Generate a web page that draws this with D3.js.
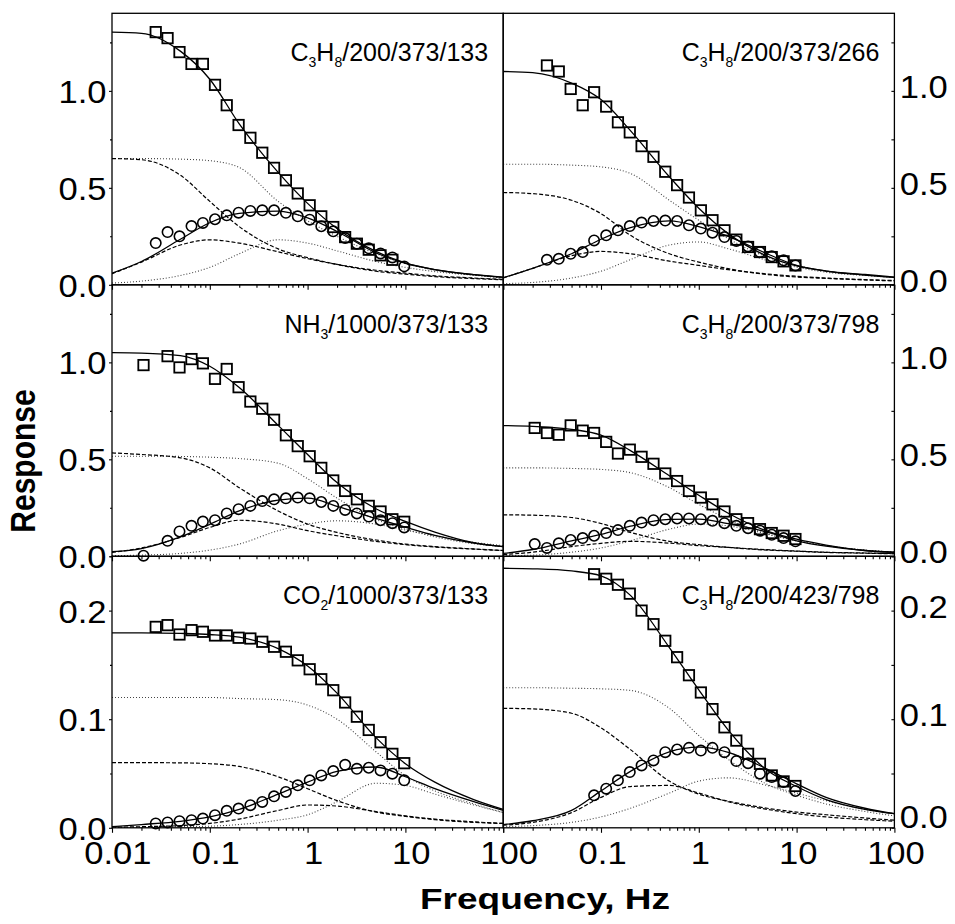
<!DOCTYPE html>
<html>
<head>
<meta charset="utf-8">
<script src="https://cdn.jsdelivr.net/npm/d3@7"></script>
<style>
  body { margin: 0; background: #fff; }
  text { font-family: "Liberation Sans", Arial, sans-serif; fill: #000; }
</style>
</head>
<body>
<svg id="chart" width="955" height="924"></svg>
<script>
'use strict';

// measured frequencies (Hz) for the symbols
var freqHz = [0.021, 0.028, 0.037, 0.049, 0.065, 0.085, 0.113, 0.149, 0.197, 0.26, 0.344, 0.454,
              0.6, 0.793, 1.05, 1.38, 1.83, 2.42, 3.19, 4.22, 5.57, 7.36, 9.73];
// frequencies at which the fitted curves were read
var curveHz = [0.01, 0.02, 0.05, 0.1, 0.2, 0.5, 1, 2, 5, 10, 20, 50, 100];

var xTickLabels = [0.01, 0.1, 1, 10, 100];

// panel 1 : C3H8/200/373/133
var p1Label = ["C", "3", "H", "8", "/200/373/133"];
var p1Squares = [null, 1.303, 1.272, 1.200, 1.139, 1.139, 1.031, 0.926, 0.824, 0.758, 0.681, 0.603, 0.539, 0.471, 0.410, 0.353, 0.298, 0.246, 0.212, 0.181, 0.152, 0.129, null];
var p1Circles = [null, 0.215, 0.272, 0.250, 0.303, 0.319, 0.338, 0.358, 0.372, 0.381, 0.384, 0.384, 0.371, 0.353, 0.336, 0.302, 0.276, 0.241, 0.212, 0.188, 0.162, 0.141, 0.095];
var p1FitIn   = [1.303, 1.297, 1.205, 1.06, 0.83, 0.58, 0.42, 0.29, 0.172, 0.113, 0.078, 0.052, 0.04];
var p1FitOut  = [0.06, 0.12, 0.235, 0.32, 0.368, 0.38, 0.345, 0.275, 0.165, 0.11, 0.078, 0.052, 0.038];
var p1DashIn  = [0.651, 0.645, 0.565, 0.43, 0.30, 0.185, 0.14, 0.105, 0.07, 0.055, 0.042, 0.032, 0.026];
var p1DashOut = [0.057, 0.117, 0.205, 0.232, 0.215, 0.17, 0.135, 0.105, 0.075, 0.06, 0.046, 0.035, 0.028];
var p1DotIn   = [0.651, 0.651, 0.648, 0.64, 0.605, 0.43, 0.33, 0.25, 0.16, 0.11, 0.075, 0.05, 0.035];
var p1DotOut  = [0.009, 0.019, 0.048, 0.09, 0.16, 0.232, 0.215, 0.175, 0.12, 0.09, 0.068, 0.05, 0.038];

// panel 2 : C3H8/200/373/266
var p2Label = ["C", "3", "H", "8", "/200/373/266"];
var p2Squares = [null, 1.131, 1.100, 1.010, 0.926, 0.993, 0.919, 0.838, 0.786, 0.715, 0.660, 0.583, 0.514, 0.450, 0.384, 0.333, 0.281, 0.233, 0.195, 0.169, 0.143, 0.121, 0.100];
var p2Circles = [null, 0.129, 0.134, 0.160, 0.169, 0.229, 0.255, 0.281, 0.303, 0.321, 0.329, 0.331, 0.329, 0.307, 0.290, 0.269, 0.246, 0.226, 0.198, 0.169, 0.147, 0.126, 0.100];
var p2FitIn   = [1.100, 1.094, 1.04, 0.955, 0.795, 0.557, 0.395, 0.264, 0.148, 0.097, 0.071, 0.053, 0.040];
var p2FitOut  = [0.036, 0.085, 0.16, 0.235, 0.295, 0.33, 0.30, 0.25, 0.16, 0.10, 0.071, 0.05, 0.038];
var p2DashIn  = [0.476, 0.47, 0.436, 0.367, 0.255, 0.16, 0.117, 0.083, 0.053, 0.040, 0.033, 0.025, 0.02];
var p2DashOut = [0.036, 0.085, 0.15, 0.172, 0.16, 0.122, 0.100, 0.078, 0.056, 0.044, 0.035, 0.027, 0.022];
var p2DotIn   = [0.622, 0.622, 0.617, 0.608, 0.574, 0.436, 0.333, 0.238, 0.143, 0.100, 0.071, 0.05, 0.038];
var p2DotOut  = [0.006, 0.012, 0.035, 0.07, 0.13, 0.205, 0.221, 0.186, 0.126, 0.091, 0.065, 0.048, 0.038];

// panel 3 : NH3/1000/373/133
var p3Label = ["NH", "3", "/1000/373/133"];
var p3Squares = [0.986, null, 1.032, 0.974, 1.017, 0.995, 0.915, 0.966, 0.872, 0.798, 0.761, 0.704, 0.624, 0.568, 0.516, 0.456, 0.391, 0.337, 0.294, 0.260, 0.231, 0.191, 0.178];
var p3Circles = [0.003, null, 0.080, 0.128, 0.157, 0.179, 0.186, 0.221, 0.243, 0.260, 0.285, 0.294, 0.299, 0.303, 0.299, 0.280, 0.260, 0.239, 0.221, 0.205, 0.186, 0.171, 0.149];
var p3FitIn   = [1.05, 1.048, 1.035, 0.98, 0.87, 0.675, 0.525, 0.38, 0.245, 0.18, 0.125, 0.07, 0.05];
var p3FitOut  = [0.024, 0.04, 0.1, 0.165, 0.234, 0.29, 0.3, 0.258, 0.195, 0.15, 0.108, 0.068, 0.05];
var p3DashIn  = [0.533, 0.525, 0.508, 0.456, 0.354, 0.234, 0.166, 0.123, 0.084, 0.063, 0.05, 0.038, 0.03];
var p3DashOut = [0.02, 0.043, 0.097, 0.149, 0.186, 0.166, 0.132, 0.106, 0.077, 0.06, 0.048, 0.037, 0.03];
var p3DotIn   = [0.516, 0.516, 0.515, 0.511, 0.504, 0.48, 0.40, 0.30, 0.19, 0.14, 0.10, 0.065, 0.05];
var p3DotOut  = [0.003, 0.006, 0.015, 0.032, 0.063, 0.132, 0.166, 0.183, 0.166, 0.135, 0.106, 0.072, 0.055];

// panel 4 : C3H8/200/373/798
var p4Label = ["C", "3", "H", "8", "/200/373/798"];
var p4Squares = [0.662, 0.636, 0.627, 0.675, 0.648, 0.636, 0.590, 0.530, 0.550, 0.513, 0.477, 0.427, 0.388, 0.337, 0.303, 0.268, 0.231, 0.191, 0.171, 0.140, 0.120, 0.106, 0.089];
var p4Circles = [0.063, 0.043, 0.067, 0.084, 0.094, 0.106, 0.120, 0.135, 0.157, 0.174, 0.186, 0.191, 0.195, 0.195, 0.191, 0.183, 0.171, 0.157, 0.145, 0.132, 0.111, 0.094, 0.077];
var p4FitIn   = [0.674, 0.670, 0.655, 0.625, 0.545, 0.415, 0.315, 0.222, 0.13, 0.088, 0.058, 0.03, 0.021];
var p4FitOut  = [0.015, 0.035, 0.08, 0.113, 0.155, 0.19, 0.192, 0.168, 0.125, 0.08, 0.052, 0.03, 0.02];
var p4DashIn  = [0.214, 0.212, 0.2, 0.169, 0.123, 0.077, 0.06, 0.046, 0.032, 0.026, 0.02, 0.016, 0.013];
var p4DashOut = [0.009, 0.021, 0.05, 0.067, 0.077, 0.068, 0.055, 0.046, 0.034, 0.027, 0.021, 0.017, 0.014];
var p4DotIn   = [0.456, 0.456, 0.453, 0.448, 0.431, 0.354, 0.268, 0.191, 0.115, 0.08, 0.055, 0.032, 0.022];
var p4DotOut  = [0.003, 0.006, 0.021, 0.043, 0.08, 0.14, 0.166, 0.157, 0.115, 0.08, 0.055, 0.032, 0.022];

// panel 5 : CO2/1000/373/133
var p5Label = ["CO", "2", "/1000/373/133"];
var p5Squares = [null, 0.185, 0.1866, 0.178, 0.182, 0.1805, 0.1771, 0.1771, 0.175, 0.1743, 0.1713, 0.1667, 0.1621, 0.1542, 0.146, 0.1368, 0.1267, 0.1154, 0.1023, 0.0901, 0.0788, 0.0681, 0.0595];
var p5Circles = [null, 0.004, 0.0049, 0.0061, 0.007, 0.0085, 0.0116, 0.0156, 0.0177, 0.0208, 0.0238, 0.029, 0.033, 0.0391, 0.0437, 0.0482, 0.0522, 0.058, 0.0543, 0.0553, 0.0528, 0.0498, 0.0437];
var p5FitIn   = [0.1795, 0.1795, 0.179, 0.178, 0.1755, 0.165, 0.149, 0.124, 0.083, 0.059, 0.042, 0.026, 0.017];
var p5FitOut  = [0.001, 0.003, 0.006, 0.01, 0.017, 0.031, 0.042, 0.052, 0.056, 0.047, 0.036, 0.024, 0.016];
var p5DashIn  = [0.06, 0.06, 0.0598, 0.059, 0.0565, 0.047, 0.036, 0.025, 0.0145, 0.0105, 0.0075, 0.005, 0.004];
var p5DashOut = [0.0005, 0.001, 0.002, 0.004, 0.008, 0.016, 0.021, 0.02, 0.015, 0.011, 0.008, 0.0055, 0.004];
var p5DotIn   = [0.12, 0.12, 0.12, 0.12, 0.119, 0.118, 0.113, 0.1, 0.07, 0.048, 0.034, 0.022, 0.014];
var p5DotOut  = [0.0002, 0.0004, 0.001, 0.0015, 0.003, 0.007, 0.012, 0.024, 0.041, 0.039, 0.031, 0.021, 0.014];

// panel 6 : C3H8/200/423/798
var p6Label = ["C", "3", "H", "8", "/200/423/798"];
var p6Squares = [null, null, null, null, null, 0.2335, 0.2293, 0.2238, 0.2156, 0.2, 0.1875, 0.1722, 0.1571, 0.1405, 0.1246, 0.1093, 0.0925, 0.0803, 0.0681, 0.0589, 0.0482, 0.0427, 0.0385];
var p6Circles = [null, null, null, null, null, 0.0299, 0.036, 0.0437, 0.0513, 0.0574, 0.062, 0.0696, 0.0721, 0.0736, 0.0711, 0.0736, 0.0696, 0.0614, 0.0595, 0.0498, 0.0467, 0.0421, 0.0339];
var p6FitIn   = [0.239, 0.2385, 0.2365, 0.232, 0.214, 0.166, 0.127, 0.09, 0.053, 0.038, 0.026, 0.017, 0.013];
var p6FitOut  = [0.003, 0.0065, 0.016, 0.034, 0.052, 0.07, 0.0742, 0.0695, 0.054, 0.0405, 0.028, 0.018, 0.013];
var p6DashIn  = [0.11, 0.1095, 0.1055, 0.092, 0.072, 0.043, 0.031, 0.0245, 0.018, 0.0145, 0.012, 0.009, 0.007];
var p6DashOut = [0.0024, 0.005, 0.014, 0.028, 0.038, 0.039, 0.032, 0.024, 0.017, 0.013, 0.01, 0.0075, 0.006];
var p6DotIn   = [0.129, 0.129, 0.1285, 0.128, 0.1265, 0.11, 0.085, 0.063, 0.04, 0.03, 0.022, 0.015, 0.011];
var p6DotOut  = [0.001, 0.002, 0.005, 0.01, 0.018, 0.032, 0.043, 0.046, 0.039, 0.032, 0.025, 0.017, 0.013];

// y axis per row: top of scale, labelled ticks, minor ticks
var rowMax = [1.4, 1.4, 0.25];
var rowMajor = [[0, 0.5, 1.0], [0, 0.5, 1.0], [0, 0.1, 0.2]];
var rowMinor = [[0.25, 0.75, 1.25], [0.25, 0.75, 1.25], [0.05, 0.15, 0.25]];

var panels = [
    {label: p1Label, sq: p1Squares, ci: p1Circles, fitIn: p1FitIn, fitOut: p1FitOut, dashIn: p1DashIn, dashOut: p1DashOut, dotIn: p1DotIn, dotOut: p1DotOut},
    {label: p2Label, sq: p2Squares, ci: p2Circles, fitIn: p2FitIn, fitOut: p2FitOut, dashIn: p2DashIn, dashOut: p2DashOut, dotIn: p2DotIn, dotOut: p2DotOut},
    {label: p3Label, sq: p3Squares, ci: p3Circles, fitIn: p3FitIn, fitOut: p3FitOut, dashIn: p3DashIn, dashOut: p3DashOut, dotIn: p3DotIn, dotOut: p3DotOut},
    {label: p4Label, sq: p4Squares, ci: p4Circles, fitIn: p4FitIn, fitOut: p4FitOut, dashIn: p4DashIn, dashOut: p4DashOut, dotIn: p4DotIn, dotOut: p4DotOut},
    {label: p5Label, sq: p5Squares, ci: p5Circles, fitIn: p5FitIn, fitOut: p5FitOut, dashIn: p5DashIn, dashOut: p5DashOut, dotIn: p5DotIn, dotOut: p5DotOut},
    {label: p6Label, sq: p6Squares, ci: p6Circles, fitIn: p6FitIn, fitOut: p6FitOut, dashIn: p6DashIn, dashOut: p6DashOut, dotIn: p6DotIn, dotOut: p6DotOut}
];

var plotLeft = 112, plotTop = 13.3;
var panelW = 391.2, rowH = 271.5;
var labelStretch = "scale(1.08,1)";

var svg = d3.select("#chart");

// log minor ticks 2..9 in every decade
var minorX = [];
[0.01, 0.1, 1, 10].forEach(function (dec) {
    for (var m = 2; m <= 9; m++) { minorX.push(+(m * dec).toPrecision(2)); }
});

var lineStyles = [
    {key: "dotIn",  dash: "1,2", w: 1.1, col: "#444"},
    {key: "dotOut", dash: "1,2", w: 1.1, col: "#444"},
    {key: "dashIn",  dash: "4,2", w: 1.2, col: "#000"},
    {key: "dashOut", dash: "4,2", w: 1.2, col: "#000"},
    {key: "fitIn",  dash: null, w: 1.3, col: "#000"},
    {key: "fitOut", dash: null, w: 1.3, col: "#000"}
];

panels.forEach(function (p, k) {
    var col = k % 2, row = Math.floor(k / 2);
    var x0 = plotLeft + col * panelW, x1 = x0 + panelW;
    var yTop = plotTop + row * rowH, yBot = yTop + rowH;

    var x = d3.scaleLog().domain([0.01, 100]).range([x0, x1]);
    var y = d3.scaleLinear().domain([0, rowMax[row]]).range([yBot, yTop]);

    var g = svg.append("g").attr("class", "panel");

    var clipId = "clip" + k;
    svg.append("clipPath").attr("id", clipId)
        .append("rect")
        .attr("x", x0).attr("y", yTop)
        .attr("width", panelW).attr("height", rowH);

    // fitted curves
    var line = d3.line()
        .x(function (d) { return x(d[0]); })
        .y(function (d) { return y(d[1]); })
        .curve(d3.curveMonotoneX);

    var curves = g.append("g").attr("clip-path", "url(#" + clipId + ")");
    lineStyles.forEach(function (s) {
        var pts = curveHz.map(function (f, i) { return [f, p[s.key][i]]; });
        curves.append("path")
            .attr("d", line(pts))
            .attr("fill", "none")
            .attr("stroke", s.col)
            .attr("stroke-width", s.w)
            .attr("stroke-dasharray", s.dash);
    });

    // axes
    var xMajor = d3.axisBottom(x).tickValues(xTickLabels).tickSize(5)
        .tickFormat(function (d) {
            if (row < 2) { return ""; }
            if (col === 1 && d === 0.01) { return ""; }
            return String(d);
        });
    var gx = g.append("g").attr("transform", "translate(0," + yBot + ")").call(xMajor);
    gx.selectAll("text")
        .attr("y", 36).attr("dy", null)
        .attr("dx", col === 0 ? 5 : 1)
        .attr("transform", labelStretch)
        .style("font-size", "32px");

    g.append("g").attr("transform", "translate(0," + yBot + ")")
        .call(d3.axisBottom(x).tickValues(minorX).tickSize(3).tickFormat(""));

    if (col === 0) {
        var gy = g.append("g").attr("transform", "translate(" + x0 + ",0)")
            .call(d3.axisLeft(y).tickValues(rowMajor[row]).tickSize(3).tickPadding(2)
                .tickFormat(d3.format(".1f")));
        gy.selectAll("text").style("font-size", "32px").attr("dy", "0.36em")
            .attr("transform", labelStretch);
        g.append("g").attr("transform", "translate(" + x0 + ",0)")
            .call(d3.axisLeft(y).tickValues(rowMinor[row]).tickSize(2).tickFormat(""));
    } else {
        var gr = g.append("g").attr("transform", "translate(" + x1 + ",0)")
            .call(d3.axisRight(y).tickValues(rowMajor[row]).tickSize(-3).tickPadding(5)
                .tickFormat(d3.format(".1f")));
        gr.selectAll("text").style("font-size", "32px")
            .attr("transform", labelStretch)
            .attr("dy", function (d) { return (row === 2 && d === 0) ? "0em" : "0.2em"; });
        g.append("g").attr("transform", "translate(" + x1 + ",0)")
            .call(d3.axisRight(y).tickValues(rowMinor[row]).tickSize(-3).tickFormat(""));
    }
    g.selectAll(".domain").remove();
    g.selectAll(".tick line").attr("stroke", "#000").attr("stroke-width", 1.1);
    g.selectAll(".tick text").attr("font-family", "Liberation Sans, Arial, sans-serif");

    // frame
    g.append("rect")
        .attr("x", x0).attr("y", yTop)
        .attr("width", panelW).attr("height", rowH)
        .attr("fill", "none").attr("stroke", "#000").attr("stroke-width", 1.3);

    // symbols
    var sqPts = freqHz.map(function (f, i) { return [f, p.sq[i]]; })
        .filter(function (d) { return d[1] !== null; });
    var ciPts = freqHz.map(function (f, i) { return [f, p.ci[i]]; })
        .filter(function (d) { return d[1] !== null; });

    g.selectAll(".sq").data(sqPts).enter().append("rect")
        .attr("class", "sq")
        .attr("x", function (d) { return x(d[0]) - 5.2; })
        .attr("y", function (d) { return y(d[1]) - 5.2; })
        .attr("width", 10.4).attr("height", 10.4)
        .attr("fill", "none").attr("stroke", "#000").attr("stroke-width", 1.8);

    g.selectAll(".ci").data(ciPts).enter().append("circle")
        .attr("class", "ci")
        .attr("cx", function (d) { return x(d[0]); })
        .attr("cy", function (d) { return y(d[1]); })
        .attr("r", 5.2)
        .attr("fill", "none").attr("stroke", "#000").attr("stroke-width", 1.6);

    // panel caption with subscripts
    var t = g.append("text")
        .attr("x", x1 - 15).attr("y", yTop + 48)
        .attr("text-anchor", "end")
        .style("font-size", "25px");
    var shifted = false;
    p.label.forEach(function (part, i) {
        var ts = t.append("tspan").text(part);
        if (i % 2 === 1) {
            ts.attr("dy", 6).style("font-size", "14px");
            shifted = true;
        } else if (shifted) {
            ts.attr("dy", -6);
            shifted = false;
        }
    });
});

// axis titles
svg.append("text")
    .attr("transform", "translate(35,461) rotate(-90) scale(1,1.17)")
    .attr("text-anchor", "middle")
    .style("font-size", "30px").style("font-weight", "bold")
    .text("Response");

svg.append("text")
    .attr("x", 545).attr("y", 909)
    .attr("text-anchor", "middle")
    .attr("textLength", 250).attr("lengthAdjust", "spacingAndGlyphs")
    .style("font-size", "30px").style("font-weight", "bold")
    .text("Frequency, Hz");
</script>
</body>
</html>
